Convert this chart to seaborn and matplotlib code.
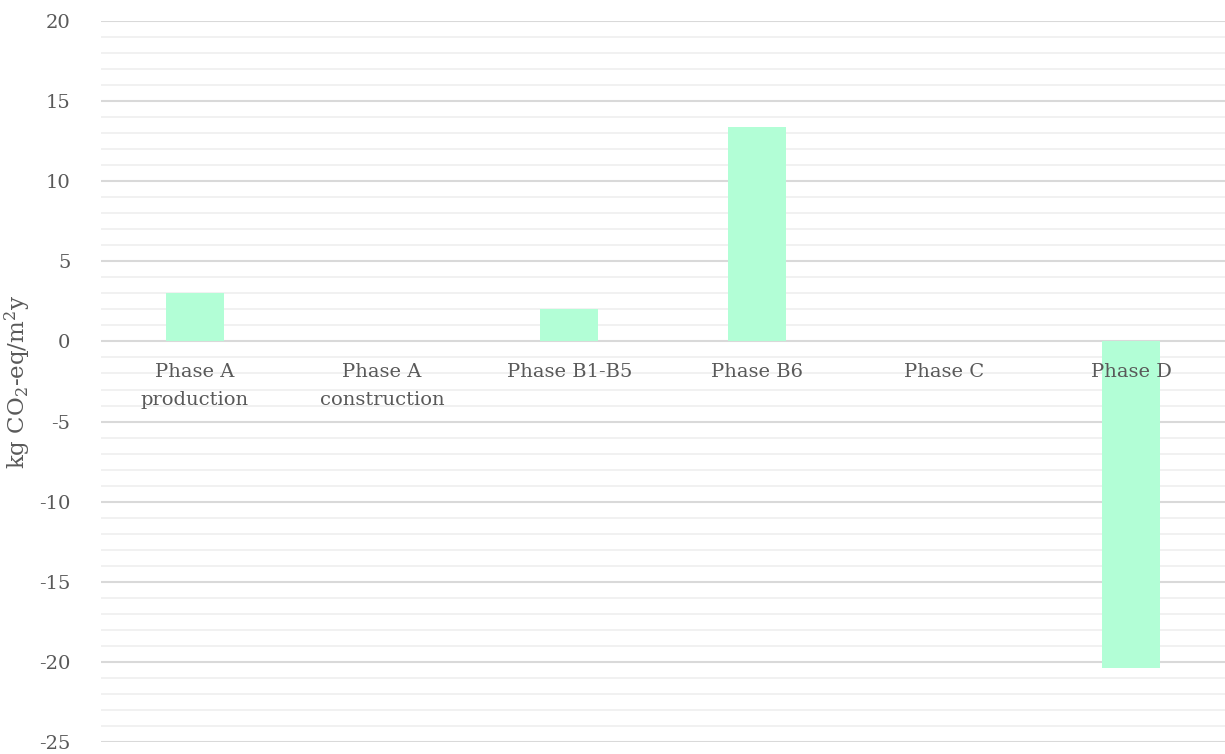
import matplotlib
matplotlib.use("Agg")
import matplotlib.pyplot as plt
import seaborn as sns
import pandas as pd
import numpy as np

categories = ["Phase A\nproduction", "Phase A\nconstruction", "Phase B1-B5",
              "Phase B6", "Phase C", "Phase D"]
values = [3.0, 0.0, 2.0, 13.4, 0.0, -20.4]
y_ticks = [-25, -20, -15, -10, -5, 0, 5, 10, 15, 20]

sns.set_theme(style="white")
plt.rcParams["font.family"] = ["DejaVu Serif"]
plt.rcParams["mathtext.fontset"] = "dejavuserif"

text_color = "#595959"
bar_color = "#b2fed6"

df = pd.DataFrame({"phase": categories, "value": values})

fig = plt.figure(figsize=(12.25, 7.54), dpi=100)
ax = fig.add_axes([101 / 1225, 12 / 754, 1 - 101 / 1225, (742 - 21) / 754])

# minor and major horizontal gridlines
for v in np.arange(-25, 21, 1):
    major = v % 5 == 0
    ax.axhline(v, color="#d9d9d9" if major else "#f0f0f0",
               lw=1.5 if major else 1.3, zorder=0)

sns.barplot(data=df, x="phase", y="value", color=bar_color, width=0.31,
            saturation=1, linewidth=0, edgecolor="none", ax=ax, zorder=2)

ax.set_ylim(-25, 20)
ax.set_xlim(-0.5, 5.5)
ax.set_yticks(y_ticks)
ax.set_yticklabels([str(t) for t in y_ticks], fontsize=14, color=text_color)
ax.tick_params(axis="y", length=0, pad=22)
ax.set_xticks([])
ax.set_xlabel("")
ax.set_ylabel(r"kg CO$_2$-eq/m$^2$y", fontsize=16.5, color=text_color)
ax.yaxis.set_label_coords((33 - 101) / 1124, 0.5)
for s in ax.spines.values():
    s.set_visible(False)

# category labels sit just under the zero line
for i, name in enumerate(categories):
    ax.annotate(name, xy=(i, 0), xytext=(0, -15.5), textcoords="offset points",
                ha="center", va="top", fontsize=14, color=text_color,
                linespacing=1.7, zorder=3)

fig.savefig("out.png", dpi=100)
